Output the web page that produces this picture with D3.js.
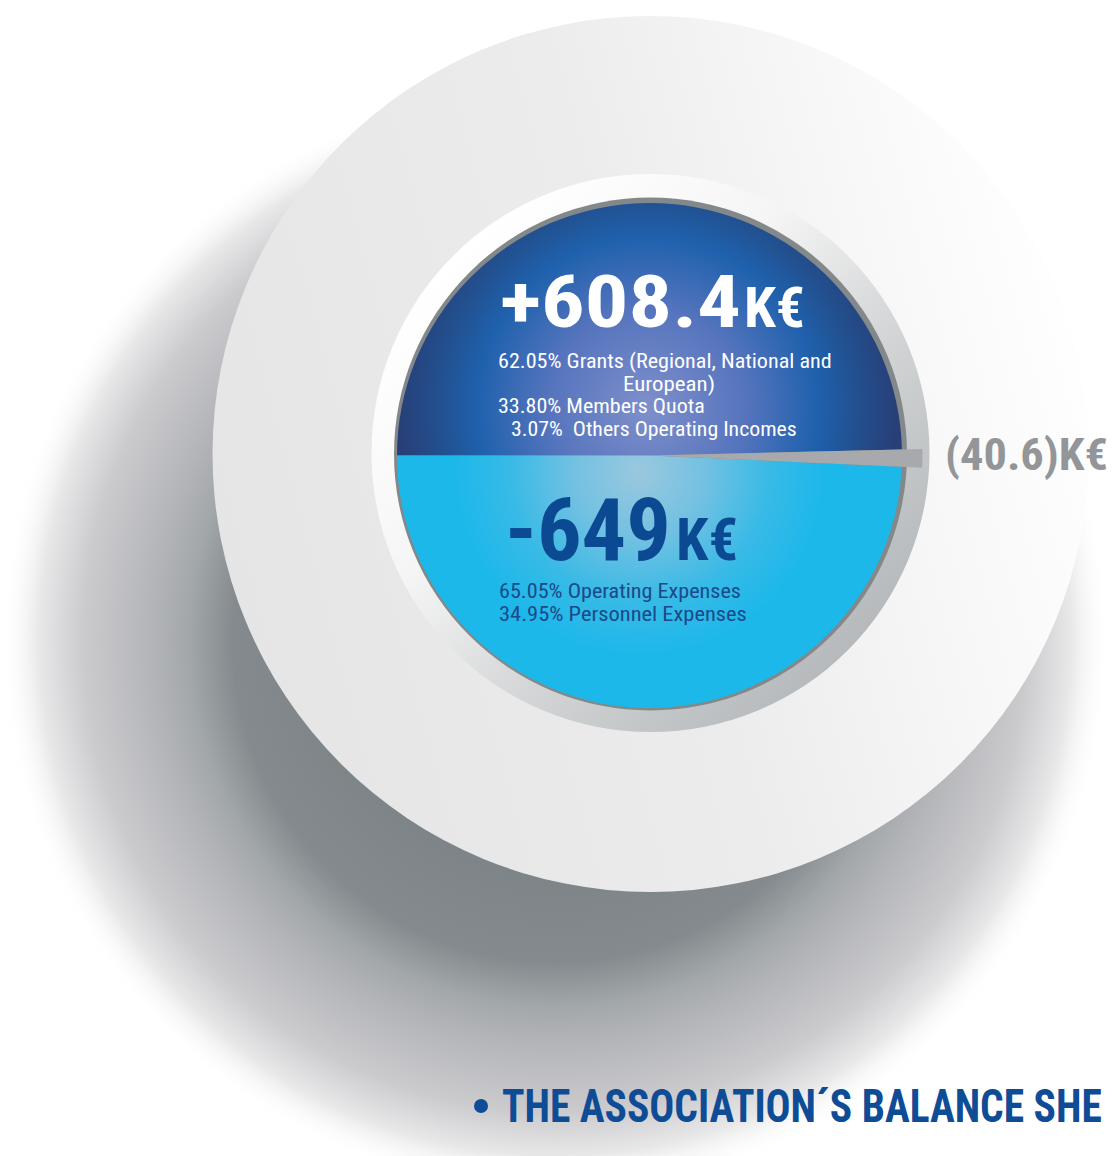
<!DOCTYPE html>
<html><head><meta charset="utf-8">
<script src="https://cdn.jsdelivr.net/npm/d3@7"></script>
<style>html,body{margin:0;padding:0;background:#fff;overflow:hidden} svg{display:block}</style>
</head><body>
<svg id="chart" width="1114" height="1156"></svg>
<script>
// ---------- data ----------
const categories = ["Incomes", "Expenses", "Result"];
const valuesK = [608.4, 649, -40.6];
const incomeShares = [62.05, 33.80, 3.07];
const incomeItems = ["Grants (Regional, National and European)", "Members Quota", "Others Operating Incomes"];
const expenseShares = [65.05, 34.95];
const expenseItems = ["Operating Expenses", "Personnel Expenses"];
const titleText = "THE ASSOCIATION´S BALANCE SHE";

// ---------- setup ----------
const W = 1114, H = 1156;
const svg = d3.select("#chart").attr("width", W).attr("height", H);
const defs = svg.append("defs");
const FONT = "'Roboto Condensed', Roboto, 'DejaVu Sans Condensed', sans-serif";

function linGrad(id, x1, y1, x2, y2, stops) {
  const g = defs.append("linearGradient").attr("id", id)
    .attr("x1", x1).attr("y1", y1).attr("x2", x2).attr("y2", y2);
  stops.forEach(s => g.append("stop").attr("offset", s[0]).attr("stop-color", s[1]));
}
function radGrad(id, cx, cy, r, stops, user) {
  const g = defs.append("radialGradient").attr("id", id)
    .attr("cx", cx).attr("cy", cy).attr("r", r);
  if (user) g.attr("gradientUnits", "userSpaceOnUse");
  stops.forEach(s => g.append("stop").attr("offset", s[0]).attr("stop-color", s[1])
    .attr("stop-opacity", s[2] === undefined ? 1 : s[2]));
}

// ---------- gradients ----------
radGrad("shadowG", 555, 640, 555, [
  [0, "#6e777b"], [0.58, "#848a8d"], [0.66, "#a2a7aa"], [0.73, "#b4b5b9"],
  [0.85, "#cbcbce"], [0.93, "#e8e8e9"], [1, "#ffffff", 0]
], true);
linGrad("discG", 0, 0.62, 1, 0.35, [[0, "#e5e5e5"], [0.5, "#ececec"], [0.8, "#f8f8f8"], [1, "#ffffff"]]);
linGrad("bezelG", 0.15, 0.15, 0.85, 0.85, [[0, "#ffffff"], [0.35, "#f5f5f5"], [0.65, "#d3d5d6"], [1, "#b6babc"]]);
radGrad("incomeG", -2, -48, 262, [
  [0, "#7f8fcb"], [0.38, "#5574bd"], [0.65, "#1f61ad"], [0.8, "#22508f"], [0.95, "#283f78"], [1, "#2a3c74"]
], true);
radGrad("expenseG", -10, 16, 185, [
  [0, "#9ac8de"], [0.35, "#74c1e2"], [0.7, "#38bae6"], [1, "#1cb8ea"]
], true);

// ---------- background shapes ----------
const disc = { x: 650.5, y: 454 };
svg.append("circle").attr("cx", 555).attr("cy", 640).attr("r", 555).attr("fill", "url(#shadowG)");
svg.append("circle").attr("cx", disc.x).attr("cy", disc.y).attr("r", 438).attr("fill", "url(#discG)");
svg.append("circle").attr("cx", disc.x).attr("cy", 453).attr("r", 279).attr("fill", "url(#bezelG)");
svg.append("circle").attr("cx", disc.x).attr("cy", disc.y).attr("r", 256.5).attr("fill", "#83888a");

// ---------- pie of the balance ----------
const pieC = { x: 649.5, y: 455.5 }, R = 252.5;
const g = svg.append("g").attr("transform", `translate(${pieC.x},${pieC.y})`);
const [income, expenses, result] = valuesK;
const gapAngle = d3.scaleLinear().domain([0, expenses]).range([0, 1.1]);
const gap = gapAngle(Math.abs(result));
const up = gap * 0.35, down = gap * 0.65;
const arc = d3.arc();
const slices = [
  { name: categories[0], startAngle: -Math.PI / 2, endAngle: Math.PI / 2 - up, innerRadius: 0, outerRadius: R, fill: "url(#incomeG)" },
  { name: categories[1], startAngle: Math.PI / 2 + down, endAngle: 3 * Math.PI / 2, innerRadius: 0, outerRadius: R, fill: "url(#expenseG)" },
  { name: categories[2], startAngle: Math.PI / 2 - up, endAngle: Math.PI / 2 + down, innerRadius: 0, outerRadius: R + 20.5, fill: "#a7a9ac" }
];
g.selectAll("path.slice").data(slices).join("path").attr("class", "slice")
  .attr("d", d => arc(d)).attr("fill", d => d.fill);

// ---------- texts (horizontally scaled to the reference widths) ----------
function txt(s, x, y, size, len, fill, weight) {
  const t = svg.append("text").attr("x", 0).attr("y", 0)
    .attr("font-family", FONT).attr("font-size", size).attr("font-weight", weight || 400)
    .attr("fill", fill).style("white-space", "pre").text(s);
  const w = t.node().getComputedTextLength() || len;
  t.attr("transform", `translate(${x},${y}) scale(${len / w},1)`);
  return t;
}
const fmt2 = d3.format(".2f");
// incomes
txt("+" + d3.format(".1f")(income), 500, 327, 73, 241, "#ffffff", 700);
txt("K€", 744, 327, 56, 61, "#ffffff", 700);
const grants = incomeItems[0].split(" European");
txt(`${fmt2(incomeShares[0])}% ${grants[0]}`, 498, 368, 20, 334, "#ffffff");
txt("European" + grants[1], 623, 391, 20, 92, "#ffffff");
txt(`${fmt2(incomeShares[1])}% ${incomeItems[1]}`, 498, 413, 20, 207, "#ffffff");
txt(`${fmt2(incomeShares[2])}%  ${incomeItems[2]}`, 511, 436, 20, 286, "#ffffff");
// expenses
txt("-" + d3.format("d")(expenses), 505, 560, 87, 166, "#0b4a92", 700);
txt("K€", 676, 560, 59, 62, "#0b4a92", 700);
txt(`${fmt2(expenseShares[0])}% ${expenseItems[0]}`, 499, 598, 20, 242, "#1a4a8a");
txt(`${fmt2(expenseShares[1])}% ${expenseItems[1]}`, 499, 621, 20, 248, "#1a4a8a");
// result
txt(`(${d3.format(".1f")(Math.abs(result))})K€`, 945, 470, 44, 163, "#939598", 700);
// title
svg.append("circle").attr("cx", 481).attr("cy", 1106).attr("r", 7).attr("fill", "#0f4c96");
txt(titleText, 502, 1122, 46, 600, "#0f4c96", 700);
</script>
</body></html>
